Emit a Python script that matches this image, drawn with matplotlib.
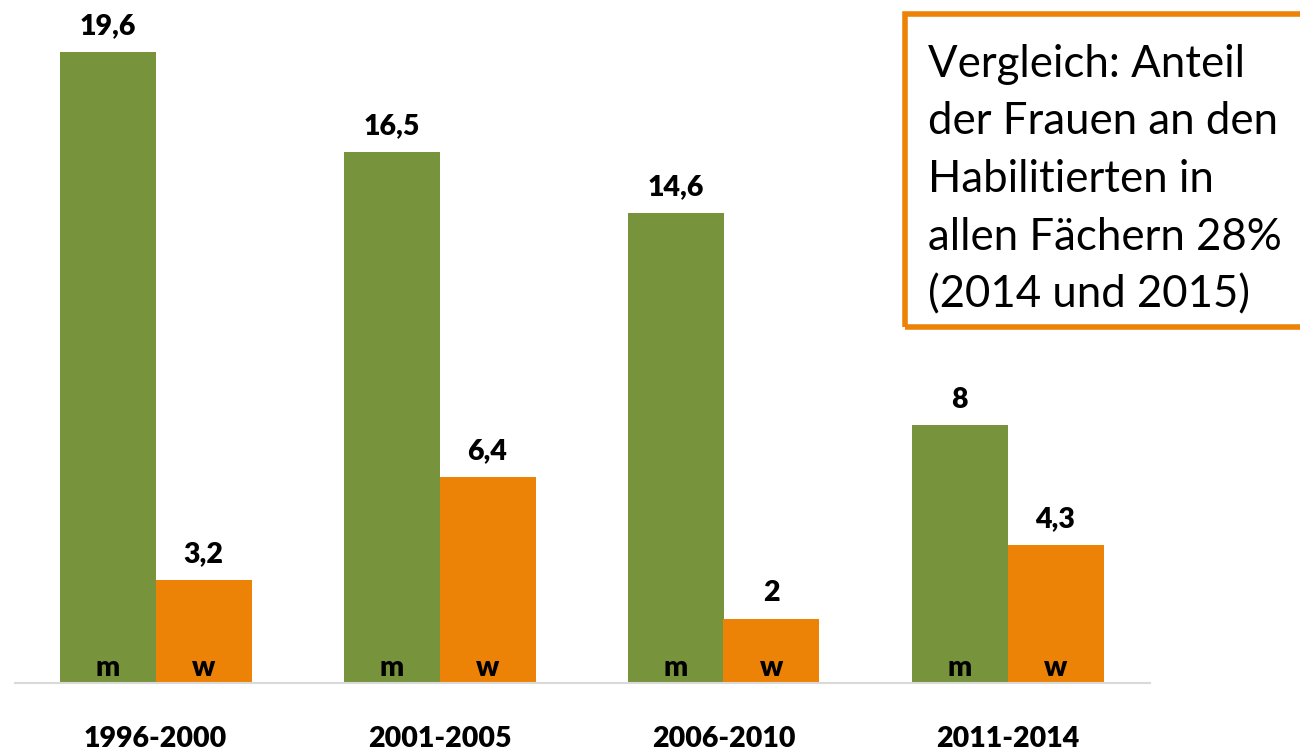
import numpy as np
import matplotlib.pyplot as plt
from matplotlib.patches import Rectangle

plt.rcParams['font.family'] = ['Lato', 'DejaVu Sans']

perioden = ['1996-2000', '2001-2005', '2006-2010', '2011-2014']
maenner = [19.6, 16.5, 14.6, 8]
frauen = [3.2, 6.4, 2, 4.3]
gruen = '#77933C'
orange = '#EC8206'

def de(v):
    return ('%g' % v).replace('.', ',')

fig = plt.figure(figsize=(13, 7.5), dpi=100)
ax = fig.add_axes([15/1300, 67/750, 1135/1300, 683/750])

x = np.arange(len(perioden))
w = 96/284
b1 = ax.bar(x - w/2, maenner, w, color=gruen)
b2 = ax.bar(x + w/2, frauen, w, color=orange)

ax.set_xlim((15-155.5)/284, (1150-155.5)/284)
ax.set_ylim(0, 683/32.2)

for bars, vals, lab in [(b1, maenner, 'm'), (b2, frauen, 'w')]:
    for r, v in zip(bars, vals):
        cx = r.get_x() + r.get_width()/2
        ax.annotate(de(v), (cx, v), xytext=(0, 12.5), textcoords='offset points',
                    ha='center', va='baseline', fontsize=20.5, fontweight='heavy')
        ax.annotate(lab, (cx, 0), xytext=(0, 5), textcoords='offset points',
                    ha='center', va='baseline', fontsize=20.5, fontweight='heavy')

for s in ['top', 'right', 'left']:
    ax.spines[s].set_visible(False)
ax.spines['bottom'].set_color('#D9D9D9')
ax.spines['bottom'].set_linewidth(1.5)
ax.set_yticks([])
ax.set_xticks(x)
ax.set_xticklabels(perioden, fontsize=20.5, fontweight='heavy')
ax.tick_params(axis='x', length=0, pad=31)

fig.patches.append(Rectangle((905/1300, 1-327/750), 420/1300, 313/750,
                             transform=fig.transFigure, fill=False,
                             edgecolor=orange, linewidth=4))
fig.text(928/1300, 1-44/750,
         'Vergleich: Anteil\nder Frauen an den\nHabilitierten in\nallen Fächern 28%\n(2014 und 2015)',
         ha='left', va='top', fontsize=31.5, linespacing=1.5)

fig.savefig('out.png')
